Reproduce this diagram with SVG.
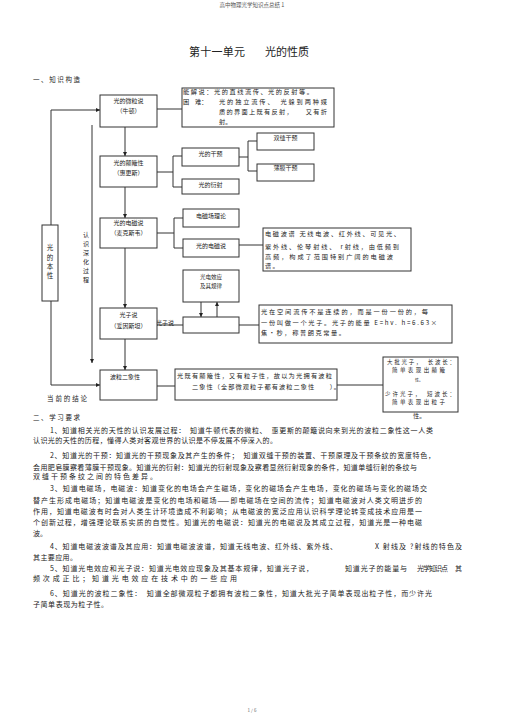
<svg xmlns="http://www.w3.org/2000/svg" width="505" height="714" viewBox="0 0 505 714">
<style>
text{font-family:"Noto Sans CJK SC","Liberation Serif",sans-serif;fill:#222}
.b{fill:#fff;stroke:#333;stroke-width:1}
.c{fill:none;stroke:#333;stroke-width:1}
.n{font-size:6px;text-anchor:middle}
.t{font-size:6.2px}
.p{font-size:7px}
.s{font-size:6.5px}
</style>
<defs>
<marker id="ah" viewBox="0 0 8 8" refX="8" refY="4" markerWidth="4" markerHeight="4" markerUnits="userSpaceOnUse" orient="auto">
<path d="M0,0 L8,4 L0,8 Z" fill="#222"/>
</marker>
</defs>
<rect width="505" height="714" fill="#fff"/>
<text x="252" y="7" style="font-size:5.5px;fill:#555" text-anchor="middle">高中物理光学知识点总结 1</text>
<text x="189" y="56" style="font-size:11px" textLength="56" lengthAdjust="spacing">第十一单元</text>
<text x="265" y="56" style="font-size:11px" textLength="44" lengthAdjust="spacing">光的性质</text>
<text x="33" y="82" class="s" textLength="47" lengthAdjust="spacing">一、知识构造</text>

<g id="connectors">
<line class="c" x1="157" y1="109" x2="182" y2="109"/>
<line class="c" x1="125" y1="127" x2="125" y2="156" marker-end="url(#ah)"/>
<polyline class="c" points="157,172 173,172"/>
<polyline class="c" points="182,156 173,156 173,187 182,187"/>
<polyline class="c" points="239,157 248,157"/>
<polyline class="c" points="257,141 248,141 248,171 257,171"/>
<line class="c" x1="125" y1="187" x2="125" y2="218" marker-end="url(#ah)"/>
<polyline class="c" points="157,233 174,233"/>
<polyline class="c" points="183,218 174,218 174,248 183,248"/>
<line class="c" x1="239" y1="245" x2="263" y2="245"/>
<line class="c" x1="201" y1="302" x2="201" y2="317" marker-end="url(#ah)"/>
<line class="c" x1="217" y1="317" x2="217" y2="302" marker-end="url(#ah)"/>
<line class="c" x1="125" y1="248" x2="125" y2="308" marker-end="url(#ah)"/>
<line class="c" x1="157" y1="325" x2="183" y2="325"/>
<line class="c" x1="239" y1="325" x2="259" y2="325"/>
<line class="c" x1="125" y1="339" x2="125" y2="370" marker-end="url(#ah)"/>
<line class="c" x1="157" y1="386" x2="175" y2="386"/>
<line class="c" x1="337" y1="385" x2="383" y2="385"/>
<polyline class="c" points="51,225 51,110 100,110" marker-end="url(#ah)"/>
<polyline class="c" points="51,301 51,385 100,385" marker-end="url(#ah)"/>
<line class="c" x1="92" y1="125" x2="92" y2="363" marker-end="url(#ah)"/>
<text x="165" y="324.5" class="n">光子说</text>
</g>

<g id="n-nature">
<rect class="b" x="42" y="225" width="16" height="76"/>
<text x="50" y="250" class="n" style="font-size:6.5px">光</text>
<text x="50" y="260" class="n" style="font-size:6.5px">的</text>
<text x="50" y="269" class="n" style="font-size:6.5px">本</text>
<text x="50" y="278" class="n" style="font-size:6.5px">性</text>
</g>
<g id="n-deepen">
<text x="86" y="237" class="n">认</text>
<text x="86" y="246" class="n">识</text>
<text x="86" y="255" class="n">深</text>
<text x="86" y="264" class="n">化</text>
<text x="86" y="273" class="n">过</text>
<text x="86" y="282" class="n">程</text>
</g>
<g id="n-conclusion">
<text x="47" y="401" class="s" textLength="40" lengthAdjust="spacing">当前的结论</text>
</g>

<g id="n-particle">
<rect class="b" x="100" y="95" width="57" height="32"/>
<text x="128.5" y="103" class="n">光的微粒说</text>
<text x="128.5" y="113" class="n">（牛顿）</text>
</g>
<g id="n-particle-note">
<rect class="b" x="182" y="88" width="152" height="39"/>
<text x="183" y="94" class="t" textLength="130" lengthAdjust="spacing">能解说：光的直线流传、光的反射等。</text>
<text x="183" y="104" class="t">困</text>
<text x="195" y="104" class="t">难：</text>
<text x="219" y="104" class="t" textLength="108" lengthAdjust="spacing">光的独立流传、　光躲到两种媒</text>
<text x="219" y="114" class="t" textLength="108" lengthAdjust="spacing">质的界面上既有反射，　　又有折</text>
<text x="219" y="124" class="t">射。</text>
</g>

<g id="n-wave">
<rect class="b" x="100" y="156" width="57" height="31"/>
<text x="128.5" y="165" class="n">光的颠簸性</text>
<text x="128.5" y="175" class="n">（惠更斯）</text>
</g>
<g id="n-interference">
<rect class="b" x="182" y="148" width="57" height="18"/>
<text x="210.5" y="156" class="n">光的干预</text>
</g>
<g id="n-diffraction">
<rect class="b" x="182" y="179" width="57" height="15"/>
<text x="210.5" y="187" class="n">光的衍射</text>
</g>
<g id="n-double-slit">
<rect class="b" x="257" y="133" width="57" height="17"/>
<text x="285.5" y="140" class="n">双缝干预</text>
</g>
<g id="n-thin-film">
<rect class="b" x="257" y="164" width="57" height="17"/>
<text x="285.5" y="170" class="n">薄膜干预</text>
</g>

<g id="n-em-theory-light">
<rect class="b" x="100" y="218" width="57" height="30"/>
<text x="128.5" y="225" class="n">光的电磁说</text>
<text x="128.5" y="235" class="n">（麦克斯韦）</text>
</g>
<g id="n-em-field">
<rect class="b" x="183" y="209" width="56" height="18"/>
<text x="211" y="218" class="n">电磁场理论</text>
</g>
<g id="n-em-light">
<rect class="b" x="183" y="239" width="56" height="18"/>
<text x="211" y="248" class="n">光的电磁说</text>
</g>
<g id="n-em-spectrum">
<rect class="b" x="263" y="228" width="148" height="43"/>
<text x="265" y="236" class="t" textLength="135" lengthAdjust="spacing">电磁波谱 无线电波、红外线、可见光、</text>
<text x="265" y="249" class="t" textLength="134" lengthAdjust="spacing">紫外线、伦琴射线、 r射线，由低频到</text>
<text x="265" y="259" class="t" textLength="128" lengthAdjust="spacing">高频，构成了范围特别广阔的电磁波</text>
<text x="265" y="268" class="t">谱 。</text>
</g>

<g id="n-photoelectric">
<rect class="b" x="183" y="270" width="56" height="32"/>
<text x="211" y="279" class="n" style="font-size:5.5px">光电效应</text>
<text x="211" y="288" class="n" style="font-size:5.5px">及其规律</text>
</g>
<g id="n-empty">
<rect class="b" x="183" y="317" width="56" height="16"/>
</g>
<g id="n-photon">
<rect class="b" x="100" y="308" width="57" height="31"/>
<text x="128.5" y="317" class="n">光子说</text>
<text x="128.5" y="328" class="n">（爱因斯坦）</text>
</g>
<g id="n-photon-note">
<rect class="b" x="259" y="305" width="193" height="38"/>
<text x="261" y="314" class="t" textLength="167" lengthAdjust="spacing">光在空间流传不是连续的，而是一份一份的，每</text>
<text x="261" y="325" class="t" textLength="176" lengthAdjust="spacing">一份叫做一个光子。光子的能量 E=hv.   h=6.63×</text>
<text x="261" y="335" class="t" textLength="84" lengthAdjust="spacing">焦・秒，称普朗克常量。</text>
</g>

<g id="n-duality">
<rect class="b" x="100" y="370" width="57" height="30"/>
<text x="125" y="379" class="n">波粒二象性</text>
</g>
<g id="n-duality-note">
<rect class="b" x="175" y="369" width="162" height="31"/>
<text x="177" y="378" class="t" textLength="155" lengthAdjust="spacing">光既有颠簸性，又有粒子性，故以为光拥有波粒</text>
<text x="192" y="389" class="t" textLength="148" lengthAdjust="spacing">二象性（全部微观粒子都有波粒二象性　　）。</text>
</g>
<g id="n-photon-counts">
<rect class="b" x="383" y="357" width="75" height="55"/>
<text x="387" y="363.5" class="t" style="font-size:5.5px" textLength="68" lengthAdjust="spacing">大批光子，　长波长：</text>
<text x="392" y="371.5" class="t" style="font-size:5.5px" textLength="53" lengthAdjust="spacing">简单表现出颠簸</text>
<text x="415" y="382" class="t" style="font-size:4px">性。</text>
<text x="385" y="395.5" class="t" style="font-size:5.5px" textLength="70" lengthAdjust="spacing">少许光子，　短波长：</text>
<text x="392" y="403.5" class="t" style="font-size:5.5px" textLength="53" lengthAdjust="spacing">简单表现出粒子</text>
<text x="413" y="418" class="t">性。</text>
</g>

<g id="requirements">
<text x="33" y="420" class="s" textLength="47" lengthAdjust="spacing">二、学习要求</text>
<text x="50" y="432.5" class="p" textLength="383" lengthAdjust="spacing">1、知道相关光的天性的认识发展过程：　知道牛顿代表的微粒、　惠更斯的颠簸说向来到光的波粒二象性这一人类</text>
<text x="33" y="443" class="p" textLength="244" lengthAdjust="spacing">认识光的天性的历程，懂得人类对客观世界的认识是不停发展不停深入的。</text>
<text x="50" y="457.5" class="p" textLength="385" lengthAdjust="spacing">2、知道光的干预：知道光的干预现象及其产生的条件；　知道双缝干预的装置、干预原理及干预条纹的宽度特色，</text>
<text x="33" y="469.5" class="p" textLength="384" lengthAdjust="spacing">会用肥皂膜察看薄膜干预现象。知道光的衍射：知道光的衍射现象及察看显然衍射现象的条件，知道单缝衍射的条纹与</text>
<text x="33" y="478.5" class="p" textLength="124" lengthAdjust="spacing">双缝干预条纹之间的特色差异。</text>
<text x="50" y="490.5" class="p" textLength="377" lengthAdjust="spacing">3、知道电磁场，电磁波：知道变化的电场会产生磁场，变化的磁场会产生电场，变化的磁场与变化的磁场交</text>
<text x="33" y="502.5" class="p" textLength="389" lengthAdjust="spacing">替产生形成电磁场；知道电磁波是变化的电场和磁场——即电磁场在空间的流传；知道电磁波对人类文明进步的</text>
<text x="33" y="513.5" class="p" textLength="389" lengthAdjust="spacing">作用，知道电磁波有时会对人类生计环境造成不利影响；从电磁波的宽泛应用认识科学理论转变成技术应用是一</text>
<text x="33" y="524.5" class="p" textLength="389" lengthAdjust="spacing">个创新过程，增强理论联系实质的自觉性。知道光的电磁说：知道光的电磁说及其成立过程，知道光是一种电磁</text>
<text x="33" y="535.5" class="p">波。</text>
<text x="50" y="548.5" class="p" textLength="287" lengthAdjust="spacing">4、知道电磁波波谱及其应用：知道电磁波波谱，知道无线电波、红外线、紫外线、</text>
<text x="375" y="548.5" class="p" textLength="87" lengthAdjust="spacing">X 射线及 ?射线的特色及</text>
<text x="33" y="559.5" class="p" textLength="44" lengthAdjust="spacing">其主要应用。</text>
<text x="50" y="570.5" class="p" textLength="263" lengthAdjust="spacing">5、知道光电效应和光子说：知道光电效应现象及其基本规律，知道光子说，</text>
<text x="345" y="570.5" class="p" textLength="62" lengthAdjust="spacing">知道光子的能量与</text>
<text x="417" y="570.5" class="p" textLength="31" lengthAdjust="spacing">光学知识点</text>
<text x="455" y="570.5" class="p">其</text>
<text x="33" y="580.5" class="p" textLength="204" lengthAdjust="spacing">频次成正比；知道光电效应在技术中的一些应用</text>
<text x="50" y="596" class="p" textLength="382" lengthAdjust="spacing">6、知道光的波粒二象性：　知道全部微观粒子都拥有波粒二象性，知道大批光子简单表现出粒子性，而少许光</text>
<text x="33" y="606.5" class="p" textLength="75" lengthAdjust="spacing">子简单表现为粒子性。</text>
</g>
<text x="252" y="712" style="font-size:4.5px;fill:#666" text-anchor="middle">1 / 6</text>
</svg>
